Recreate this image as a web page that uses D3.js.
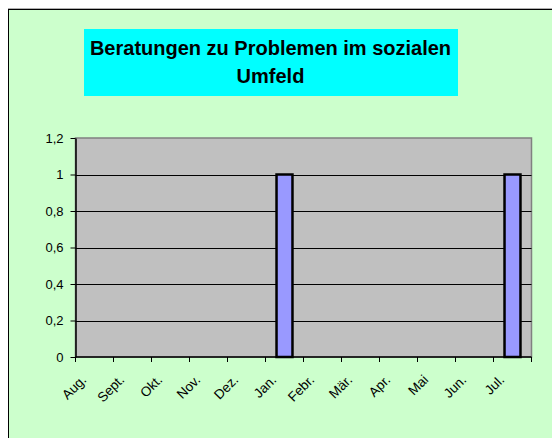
<!DOCTYPE html>
<html>
<head>
<meta charset="utf-8">
<script src="https://cdn.jsdelivr.net/npm/d3@7"></script>
<style>
  body { margin: 0; background: #fff; }
  svg { display: block; font-family: "Liberation Sans", Arial, sans-serif; }
</style>
</head>
<body>
<div id="chart"></div>
<script>
const months = ["Aug.", "Sept.", "Okt.", "Nov.", "Dez.", "Jan.", "Febr.", "Mär.", "Apr.", "Mai", "Jun.", "Jul."]
const counts = [0, 0, 0, 0, 0, 1, 0, 0, 0, 0, 0, 1]
const yTicks = [0, 0.2, 0.4, 0.6, 0.8, 1, 1.2]
const titleLines = ["Beratungen zu Problemen im sozialen", "Umfeld"]

const W = 552, H = 438
const plot = { left: 75.5, top: 138, right: 531.5, bottom: 357 }

const svg = d3.select("#chart").append("svg")
    .attr("width", W)
    .attr("height", H)

// chart frame
svg.append("rect")
    .attr("x", 8.5).attr("y", 9.5)
    .attr("width", W + 10).attr("height", H + 10)
    .attr("fill", "#ccffcc")
    .attr("stroke", "#000")
    .attr("stroke-width", 1)
svg.append("line")
    .attr("x1", 8).attr("x2", W).attr("y1", 8.5).attr("y2", 8.5)
    .attr("stroke", "#b0b0b0")

// title box
svg.append("rect")
    .attr("x", 84).attr("y", 29)
    .attr("width", 374).attr("height", 67)
    .attr("fill", "#00ffff")

svg.append("g").selectAll("text")
    .data(titleLines)
    .enter().append("text")
    .attr("x", 270.5)
    .attr("y", (d, i) => 54.5 + i * 28)
    .attr("text-anchor", "middle")
    .attr("font-size", 20)
    .attr("font-weight", "bold")
    .text(d => d)

const x = d3.scaleBand()
    .domain(months)
    .range([plot.left, plot.right])
    .paddingInner(0.58)
    .paddingOuter(0.29)

const xTicks = d3.scaleBand().domain(months).range([plot.left, plot.right])

const y = d3.scaleLinear()
    .domain([0, 1.2])
    .range([plot.bottom, plot.top])

// plot area
svg.append("rect")
    .attr("x", plot.left).attr("y", plot.top)
    .attr("width", plot.right - plot.left).attr("height", plot.bottom - plot.top)
    .attr("fill", "#c0c0c0")
    .attr("stroke", "#808080")
    .attr("stroke-width", 1.5)

// gridlines
svg.append("g").selectAll("line")
    .data(yTicks.filter(d => d > 0 && d < 1.2))
    .enter().append("line")
    .attr("x1", plot.left).attr("x2", plot.right)
    .attr("y1", d => Math.round(y(d)) + 0.5).attr("y2", d => Math.round(y(d)) + 0.5)
    .attr("stroke", "#000")
    .attr("stroke-width", 1)

// bars
svg.append("g").selectAll("rect")
    .data(counts.map((v, i) => ({ month: months[i], value: v })).filter(d => d.value > 0))
    .enter().append("rect")
    .attr("x", d => x(d.month))
    .attr("y", d => y(d.value))
    .attr("width", x.bandwidth())
    .attr("height", d => y(0) - y(d.value))
    .attr("fill", "#9999ff")
    .attr("stroke", "#000")
    .attr("stroke-width", 2.5)

// y axis
const yAxis = svg.append("g")
    .attr("transform", `translate(${plot.left},0)`)
    .call(d3.axisLeft(y).tickValues(yTicks).tickSize(5).tickSizeOuter(0)
        .tickFormat(d => String(d).replace(".", ",")))
yAxis.attr("font-family", null).attr("font-size", 13)
yAxis.selectAll("text").attr("fill", "#000").attr("x", -12)
yAxis.selectAll("line").attr("stroke", "#000")
yAxis.select(".domain").attr("stroke", "#000").attr("stroke-width", 1.5)

// x axis
const xAxis = svg.append("g")
    .attr("transform", `translate(0,${plot.bottom})`)
xAxis.append("line")
    .attr("x1", plot.left).attr("x2", plot.right)
    .attr("stroke", "#000").attr("stroke-width", 1.5)
xAxis.selectAll("line.tick")
    .data(months.concat(["end"]))
    .enter().append("line")
    .attr("class", "tick")
    .attr("x1", (d, i) => plot.left + i * xTicks.step())
    .attr("x2", (d, i) => plot.left + i * xTicks.step())
    .attr("y1", 0).attr("y2", 5)
    .attr("stroke", "#000")
xAxis.selectAll("text")
    .data(months)
    .enter().append("text")
    .attr("transform", d => `translate(${xTicks(d) + 5},${17}) rotate(-45)`)
    .attr("text-anchor", "end")
    .attr("dy", "0.7em")
    .attr("font-size", 13.5)
    .text(d => d)
</script>
</body>
</html>
